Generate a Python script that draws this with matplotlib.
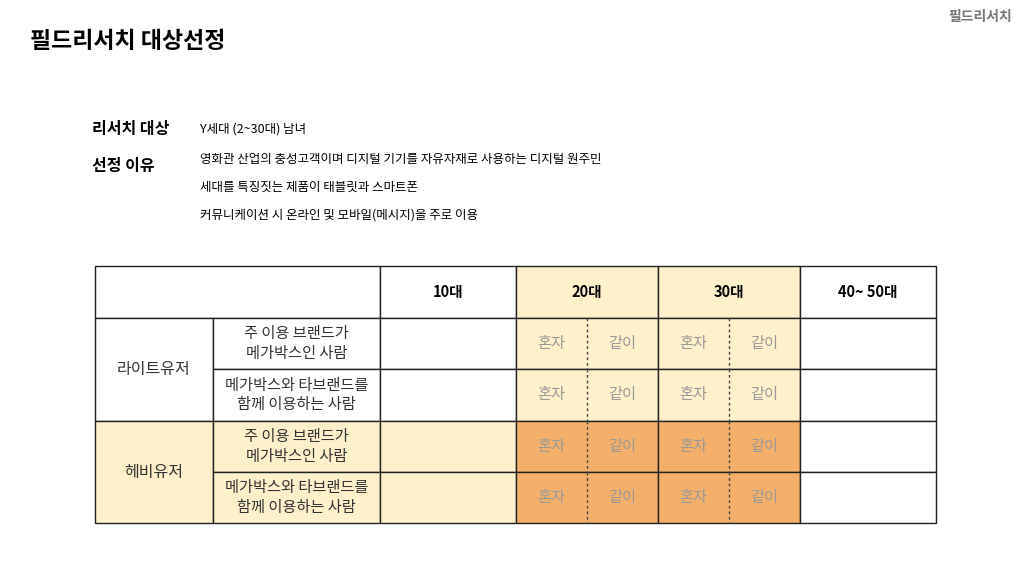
import matplotlib.pyplot as plt
from matplotlib import font_manager
from matplotlib.patches import Rectangle

# pick a sans CJK family that matplotlib actually registered
cjk = sorted({f.name for f in font_manager.fontManager.ttflist
              if 'CJK' in f.name and 'Sans' in f.name})
pref = [n for n in cjk if 'KR' in n] or cjk
plt.rcParams['font.family'] = [pref[0] if pref else 'Noto Sans CJK KR', 'DejaVu Sans']

title = '필드리서치 대상선정'
corner = '필드리서치'
info_labels = ['리서치 대상', '선정 이유']
info_lines = [['Y세대 (2~30대) 남녀'],
              ['영화관 산업의 충성고객이며 디지털 기기를 자유자재로 사용하는 디지털 원주민',
               '세대를 특징짓는 제품이 태블릿과 스마트폰',
               '커뮤니케이션 시 온라인 및 모바일(메시지)을 주로 이용']]

ages = ['10대', '20대', '30대', '40~ 50대']
groups = ['라이트유저', '헤비유저']
sub_rows = ['주 이용 브랜드가\n메가박스인 사람', '메가박스와 타브랜드를\n함께 이용하는 사람']
split_labels = ['혼자', '같이']
# shade level per group x age: 0 white, 1 cream, 2 orange
shade = [[0, 1, 1, 0],
         [1, 2, 2, 0]]
header_shade = [0, 1, 1, 0]
group_shade = [0, 1]

colors = {0: 'white', 1: '#fff0cc', 2: '#f4b06a'}

fig = plt.figure(figsize=(10.24, 5.76), dpi=100)
ax = fig.add_axes([0, 0, 1, 1])
ax.set_xlim(0, 1024)
ax.set_ylim(576, 0)
ax.axis('off')

ax.text(30, 41, title, fontsize=16.5, fontweight='bold', va='center')
ax.text(1012, 17, corner, fontsize=10, color='#777777', ha='right', va='center', fontweight='bold')

ys = [129, 166]
for lab, y, lines in zip(info_labels, ys, info_lines):
    ax.text(92, y, lab, fontsize=11.5, fontweight='bold', va='center')
    for i, ln in enumerate(lines):
        yy = y - 6 + i * 27.5 if len(lines) > 1 else y
        ax.text(200, yy, ln, fontsize=9, va='center')

xs = [95, 213, 380, 516, 658, 800, 936]
yr = [266, 318, 369, 421, 472, 523]
lw = 1.0

def cell(x0, x1, y0, y1, c):
    ax.add_patch(Rectangle((x0, y0), x1 - x0, y1 - y0, facecolor=colors[c],
                           edgecolor='#222222', lw=lw))

# header
cell(xs[0], xs[2], yr[0], yr[1], 0)
for j, a in enumerate(ages):
    cell(xs[j + 2], xs[j + 3], yr[0], yr[1], header_shade[j])
    ax.text((xs[j + 2] + xs[j + 3]) / 2, (yr[0] + yr[1]) / 2, a, fontsize=10.5,
            fontweight='bold', ha='center', va='center')

for g, gname in enumerate(groups):
    y0, y1 = yr[1 + 2 * g], yr[3 + 2 * g]
    cell(xs[0], xs[1], y0, y1, group_shade[g])
    ax.text((xs[0] + xs[1]) / 2, (y0 + y1) / 2, gname, fontsize=11.5,
            ha='center', va='center', color='#333333')
    for r, sname in enumerate(sub_rows):
        ya, yb = yr[1 + 2 * g + r], yr[2 + 2 * g + r]
        cell(xs[1], xs[2], ya, yb, group_shade[g])
        ax.text((xs[1] + xs[2]) / 2, (ya + yb) / 2, sname, fontsize=11,
                ha='center', va='center', color='#333333', linespacing=1.2)
        for j in range(len(ages)):
            cell(xs[j + 2], xs[j + 3], ya, yb, shade[g][j])
            if shade[g][j] and j in (1, 2):
                xm = (xs[j + 2] + xs[j + 3]) / 2
                ax.plot([xm, xm], [ya, yb], ls=(0, (2, 2)), color='#444444', lw=1)
                for k, s in enumerate(split_labels):
                    xc = (xs[j + 2] + xm) / 2 if k == 0 else (xm + xs[j + 3]) / 2
                    ax.text(xc, (ya + yb) / 2, s, fontsize=11, ha='center',
                            va='center', color='#999999')

fig.savefig('out.png', dpi=100)
